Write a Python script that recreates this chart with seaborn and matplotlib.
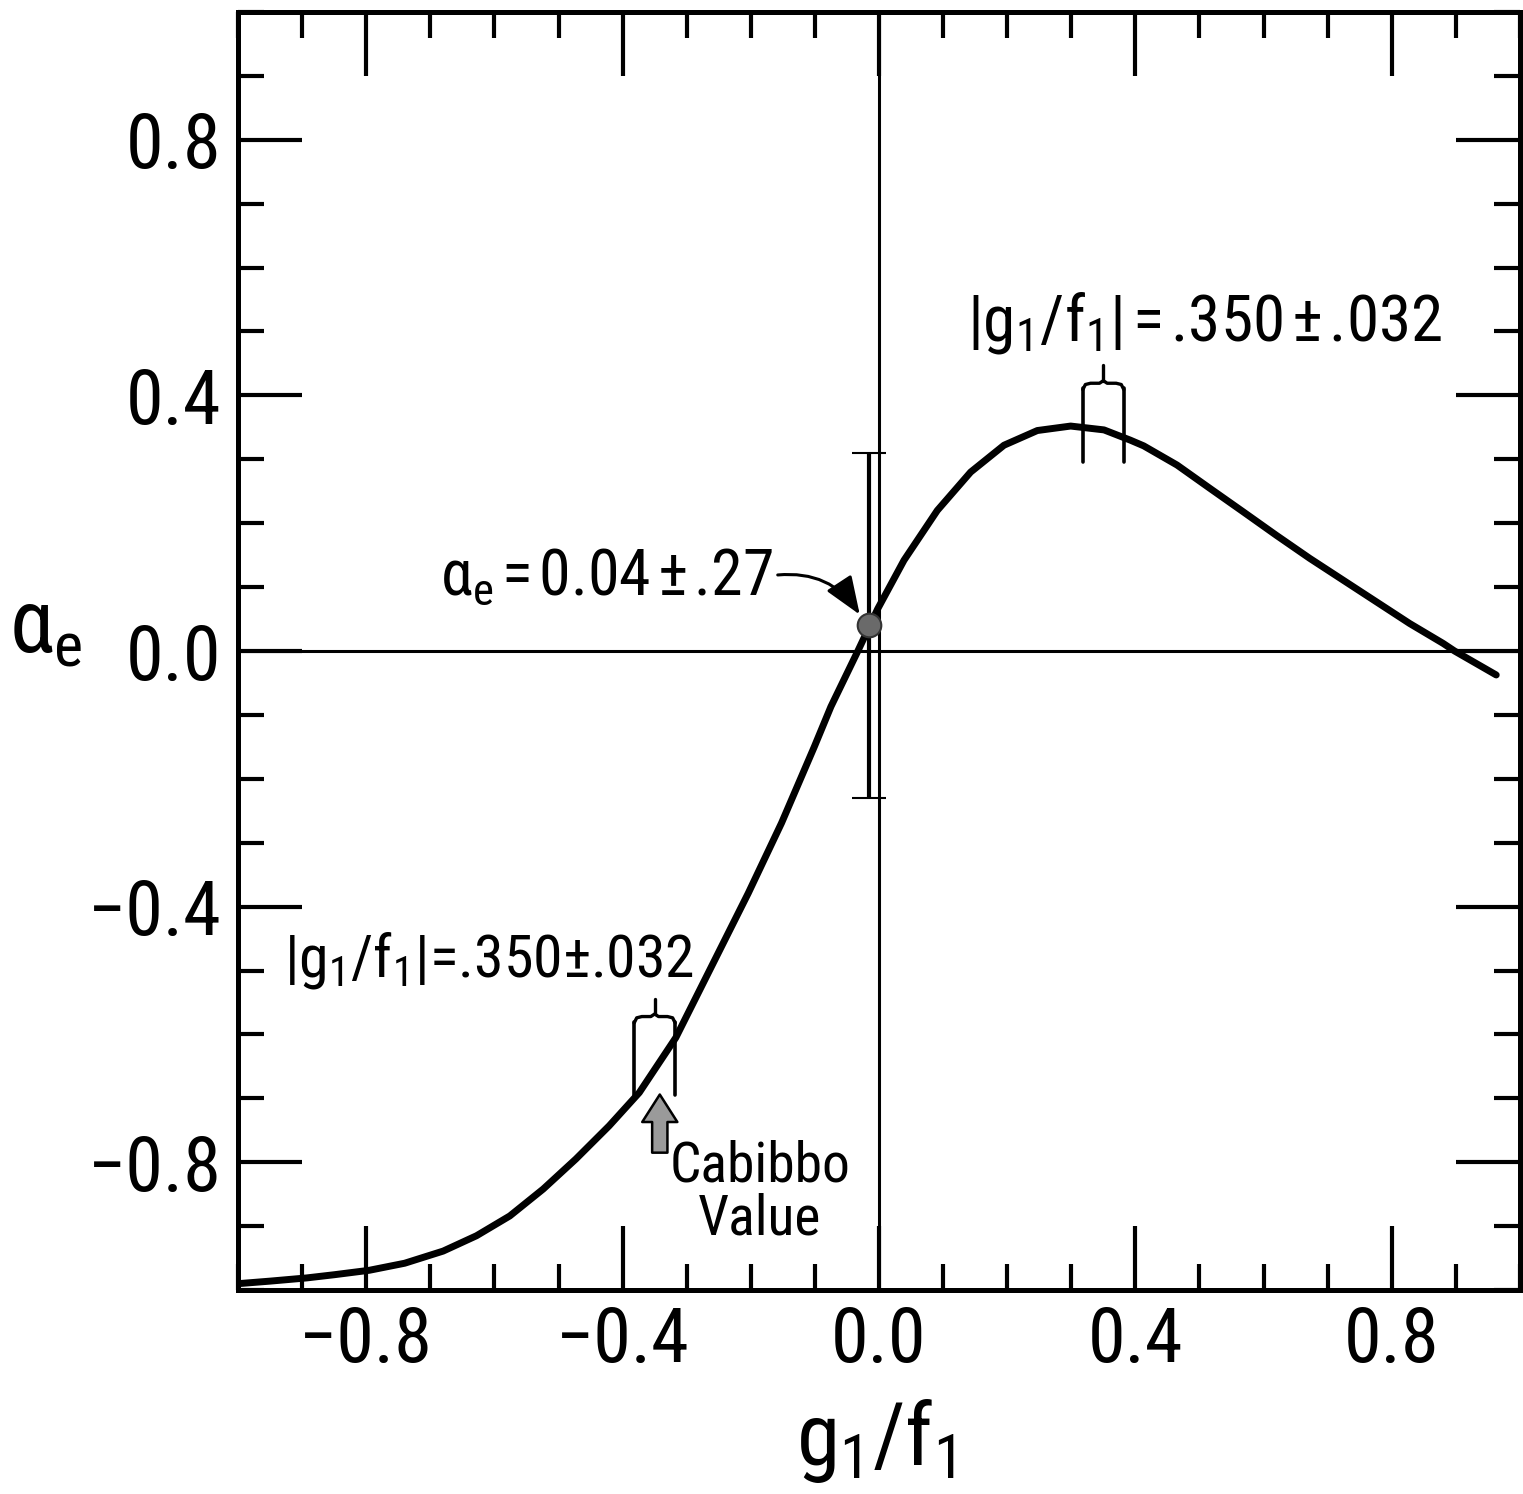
import numpy as np
import pandas as pd
import seaborn as sns
import matplotlib.pyplot as plt
from matplotlib.ticker import MultipleLocator

# electron asymmetry curve
g_ratio = [-1.0, -0.95, -0.893, -0.85, -0.795, -0.74, -0.680, -0.628, -0.576, -0.524,
           -0.473, -0.421, -0.374, -0.317, -0.256, -0.204, -0.152, -0.101, -0.075, -0.033,
           -0.002, 0.039, 0.091, 0.143, 0.195, 0.247, 0.299, 0.351, 0.392, 0.413,
           0.465, 0.517, 0.568, 0.620, 0.672, 0.724, 0.776, 0.828, 0.880, 0.898, 0.963]
alpha_curve = [-0.990, -0.986, -0.981, -0.976, -0.969, -0.958, -0.939, -0.915, -0.884, -0.842,
               -0.795, -0.743, -0.691, -0.605, -0.483, -0.379, -0.269, -0.150, -0.087, 0.0,
               0.066, 0.142, 0.220, 0.280, 0.322, 0.345, 0.352, 0.346, 0.330, 0.321,
               0.291, 0.254, 0.218, 0.181, 0.145, 0.111, 0.077, 0.043, 0.012, 0.0, -0.0375]

# measured point
meas_x = -0.016
meas_alpha = 0.04
meas_err = 0.27

# |g1/f1| = .350 +- .032 brackets (one on each branch)
brk_center = [-0.350, 0.350]
brk_err = 0.032
brk_low = [-0.695, 0.295]
brk_brace = [-0.572, 0.419]

ticks_major = [-0.8, -0.4, 0.0, 0.4, 0.8]
tick_labels = ['\u22120.8', '\u22120.4', '0.0', '0.4', '0.8']

df = pd.DataFrame({'g1f1': g_ratio, 'alpha_e': alpha_curve})

sns.set_style('ticks')
plt.rcParams['font.family'] = ['Roboto Condensed', 'Roboto', 'DejaVu Sans']
plt.rcParams['mathtext.default'] = 'regular'
plt.rcParams['text.color'] = 'black'
plt.rcParams['axes.labelcolor'] = 'black'
plt.rcParams['xtick.color'] = 'black'
plt.rcParams['ytick.color'] = 'black'

fig = plt.figure(figsize=(15.23, 14.94), dpi=100)
ax = fig.add_axes([0.1563, 0.1365, 0.8417, 0.8555])

# zero lines
ax.axhline(0, color='black', lw=2.2, zorder=1)
ax.axvline(0, color='black', lw=2.2, zorder=1)

sns.lineplot(data=df, x='g1f1', y='alpha_e', sort=False, color='black', lw=5, ax=ax, zorder=3)

ax.errorbar(meas_x, meas_alpha, yerr=meas_err, fmt='o', color='black', ms=17,
            mfc='#6a6a6a', mec='#333333', mew=1.5, elinewidth=3, capsize=12, capthick=3, zorder=4)

# brackets with braces
for c, lo, b in zip(brk_center, brk_low, brk_brace):
    top = b - 0.008
    for xx in (c - brk_err, c + brk_err):
        ax.plot([xx, xx], [lo, top], color='black', lw=2.6, zorder=2)
    bx = [c - brk_err, c - brk_err + 0.004, c - brk_err + 0.012, c - 0.006, c,
          c + 0.006, c + brk_err - 0.012, c + brk_err - 0.004, c + brk_err]
    by = [b - 0.010, b - 0.002, b, b, b + 0.004, b, b, b - 0.002, b - 0.010]
    ax.plot(bx, by, color='black', lw=2.4, zorder=2)
    ax.plot([c, c], [b + 0.004, b + 0.028], color='black', lw=2.4, zorder=2)

# annotations
ax.text(0.138, 0.486, '$|g_1/f_1|$\u200a=\u200a.350\u200a±\u200a.032', fontsize=47, ha='left', va='baseline')
ax.text(-0.929, -0.509, r'$|g_1/f_1|$=.350±.032', fontsize=43, ha='left', va='baseline')
ax.text(-0.165, 0.0875, '$\\alpha_e$\u200a=\u200a0.04\u200a±\u200a.27', fontsize=46, ha='right', va='baseline')
ax.annotate('', xy=(-0.030, 0.057), xytext=(-0.158, 0.119),
            arrowprops=dict(arrowstyle='-|>,head_length=0.9,head_width=0.35', color='black',
                            lw=2.2, mutation_scale=26, connectionstyle='arc3,rad=-0.3',
                            shrinkA=0, shrinkB=0))

ax.annotate('', xy=(-0.342, -0.694), xytext=(-0.342, -0.785),
            arrowprops=dict(arrowstyle='simple,head_length=0.9,head_width=1.15,tail_width=0.5',
                            mutation_scale=22, fc='#9a9a9a', ec='black', lw=1.8,
                            shrinkA=0, shrinkB=0))
ax.text(-0.186, -0.764, 'Cabibbo\nValue', fontsize=40, ha='center', va='top',
        linespacing=1.0, multialignment='center')

ax.set_xlim(-1, 1)
ax.set_ylim(-1, 1)
ax.set_xticks(ticks_major, tick_labels)
ax.set_yticks(ticks_major, tick_labels)
ax.xaxis.set_minor_locator(MultipleLocator(0.1))
ax.yaxis.set_minor_locator(MultipleLocator(0.1))
ax.tick_params(which='both', direction='in', top=True, right=True, color='black')
ax.tick_params(which='major', length=46, width=3, labelsize=55, pad=11)
ax.tick_params(which='minor', length=19, width=3)
ax.tick_params(axis='y', which='major', pad=12)

for s in ax.spines.values():
    s.set_linewidth(3.6)
    s.set_color('black')

ax.set_xlabel(r'$g_1/f_1$', fontsize=63, va='center')
ax.xaxis.set_label_coords(0.497, -0.118)
ax.set_ylabel(r'$\alpha_e$', fontsize=64, rotation=0, ha='center', va='center')
ax.yaxis.set_label_coords(-0.150, 0.518)

fig.savefig('out.png', dpi=100)
